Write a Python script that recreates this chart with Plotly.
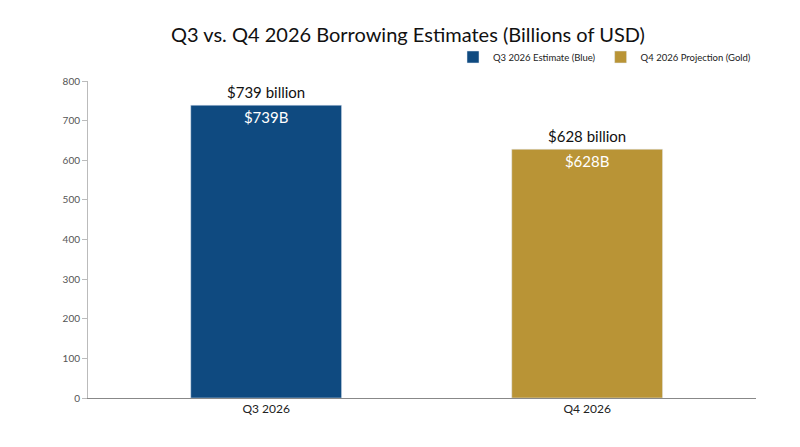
import plotly.graph_objects as go

categories = ["Q3 2026", "Q4 2026"]
values = [739, 628]
series_names = ["Q3 2026 Estimate (Blue)", "Q4 2026 Projection (Gold)"]
colors = ["#0f4a80", "#b99436"]
outer_labels = ["$739 billion", "$628 billion"]
inner_labels = ["$739B", "$628B"]

fig = go.Figure()
for c, v, n, col, il in zip(categories, values, series_names, colors, inner_labels):
    fig.add_trace(go.Bar(x=[c], y=[v], name=n, marker_color=col, width=0.47,
                         text=[il], textposition="inside", insidetextanchor="end",
                         textfont=dict(color="white", size=15)))
for c, v, t in zip(categories, values, outer_labels):
    fig.add_annotation(x=c, y=v, text=t, showarrow=False, yanchor="bottom", yshift=2,
                       font=dict(size=15, color="#111"))

fig.update_layout(
    width=800, height=447, barmode="overlay",
    paper_bgcolor="white", plot_bgcolor="white",
    font=dict(family="Lato, Open Sans, sans-serif", color="#222"),
    title=dict(text="Q3 vs. Q4 2026 Borrowing Estimates (Billions of USD)", x=0.5, xanchor="center",
               y=0.955, font=dict(size=20, color="#111")),
    margin=dict(l=80, r=52, t=73, b=57),
    legend=dict(orientation="h", x=1, xanchor="right", y=1.03, yanchor="bottom",
                font=dict(size=9.5), itemwidth=30),
    xaxis=dict(range=[-0.555, 1.526], showline=True, linecolor="#888",
               tickfont=dict(size=12, color="#222"), ticks=""),
    yaxis=dict(range=[0, 800], dtick=100, showgrid=False, showline=True, linecolor="#bbb",
               ticks="outside", ticklen=5, tickcolor="#bbb", tickfont=dict(size=10, color="#555")),
)
fig.write_html("out.html")
